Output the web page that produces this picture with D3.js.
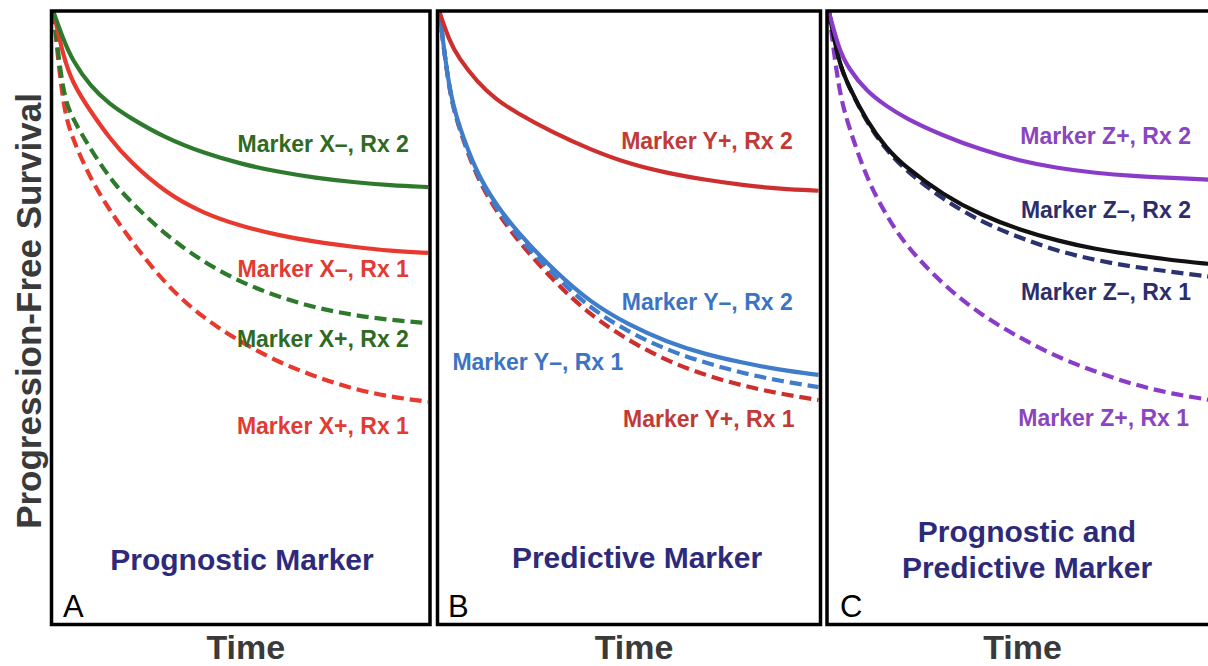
<!DOCTYPE html>
<html>
<head>
<meta charset="utf-8">
<script src="https://cdn.jsdelivr.net/npm/d3@7"></script>
<style>
  body { margin: 0; background: #fff; }
  svg { display: block; }
  text { font-family: "Liberation Sans", Arial, sans-serif; }
</style>
</head>
<body>
<div id="chart"></div>
<script>
const width = 1208;
const height = 666;

// time points (arbitrary units) shared by every curve
const timePts = [0, 0.25, 0.5, 1, 1.5, 2, 3, 4, 5, 6, 7, 8, 9, 10];

// panel A - prognostic marker (PFS %)
const xNegRx2 = [100, 95.7, 92.1, 87.7, 84.9, 82.8, 79.3, 76.9, 75.1, 73.8, 72.8, 72.1, 71.6, 71.3];
const xNegRx1 = [100, 93.0, 88.4, 83.6, 79.3, 75.7, 70.3, 67.0, 64.9, 63.4, 62.3, 61.5, 60.8, 60.5];
const xPosRx2 = [100, 86.4, 82.6, 77.4, 72.8, 69.2, 63.4, 59.0, 55.7, 53.3, 51.5, 50.3, 49.5, 49.0];
const xPosRx1 = [100, 84.3, 79.3, 72.5, 67.5, 63.1, 55.2, 49.8, 45.9, 42.6, 40.2, 38.2, 36.9, 36.1];

// panel B - predictive marker
const yPosRx2 = [100, 95.4, 92.5, 88.5, 85.6, 83.6, 80.2, 77.4, 75.1, 73.6, 72.5, 71.6, 71.0, 70.7];
const yNegRx2 = [100, 87.2, 81.5, 73.3, 68.4, 64.3, 57.7, 52.3, 48.7, 45.9, 43.9, 42.5, 41.3, 40.5];
const yNegRx1 = [100, 87.0, 81.3, 73.0, 67.9, 63.6, 56.9, 51.3, 47.5, 44.6, 42.5, 40.8, 39.5, 38.5];
const yPosRx1 = [100, 87.0, 81.1, 72.6, 67.4, 63.0, 55.9, 50.2, 46.1, 42.8, 40.5, 38.7, 37.4, 36.4];

// panel C - prognostic and predictive marker
const zPosRx2 = [100, 94.1, 90.8, 86.9, 84.6, 82.6, 79.7, 77.4, 75.6, 74.4, 73.6, 73.1, 72.8, 72.5];
const zNegRx2 = [100, 91.8, 88.0, 82.0, 77.7, 74.6, 70.0, 66.7, 64.3, 62.5, 61.1, 60.2, 59.3, 58.7];
const zNegRx1 = [100, 91.8, 88.0, 81.8, 77.4, 74.1, 69.2, 65.6, 63.0, 60.8, 59.3, 58.2, 57.4, 56.6];
const zPosRx1 = [100, 87.2, 81.5, 72.5, 66.7, 61.8, 55.2, 50.3, 46.6, 43.4, 41.0, 38.9, 37.4, 36.4];

const panelLetters = ["A", "B", "C"];
const panelTitles = [["Prognostic Marker"], ["Predictive Marker"], ["Prognostic and", "Predictive Marker"]];

// series per panel: [values, line colour, label colour, dashed, label, label t, label pct, anchor]
const panels = [
  { left: 51.5, right: 430, titleX: 242, titleY: [570], letterX: 63,
    series: [
      [xPosRx1, "#e8392f", "#e23b33", true,  "Marker X+, Rx 1", 9.49, 30.8, "end"],
      [xPosRx2, "#2e7a2c", "#2f6a22", true,  "Marker X+, Rx 2", 9.49, 45.1, "end"],
      [xNegRx1, "#e8392f", "#e23b33", false, "Marker X–, Rx 1", 9.49, 56.6, "end"],
      [xNegRx2, "#2e7a2c", "#2f6a22", false, "Marker X–, Rx 2", 9.49, 77.0, "end"]
    ] },
  { left: 437.5, right: 820.5, titleX: 637, titleY: [568], letterX: 448,
    series: [
      [yPosRx1, "#cd2f2f", "#c23a36", true,  "Marker Y+, Rx 1", 9.37, 32.0, "end"],
      [yNegRx1, "#3f7dca", "#3b74c4", true,  "Marker Y–, Rx 1", 0.34, 41.3, "start"],
      [yNegRx2, "#3f7dca", "#3b74c4", false, "Marker Y–, Rx 2", 9.32, 51.1, "end"],
      [yPosRx2, "#cd2f2f", "#c23a36", false, "Marker Y+, Rx 2", 9.32, 77.5, "end"]
    ] },
  { left: 827, right: 1212, titleX: 1027, titleY: [542, 578], letterX: 840,
    series: [
      [zPosRx1, "#8a3cc8", "#8a45c0", true,  "Marker Z+, Rx 1", 9.45, 32.1, "end"],
      [zNegRx1, "#2b3270", "#2c2e6b", true,  "Marker Z–, Rx 1", 9.5, 52.8, "end"],
      [zNegRx2, "#111111", "#2c2e6b", false, "Marker Z–, Rx 2", 9.5, 66.2, "end"],
      [zPosRx2, "#8a3cc8", "#8a45c0", false, "Marker Z+, Rx 2", 9.5, 78.4, "end"]
    ] }
];

const svg = d3.select("#chart")
  .append("svg")
  .attr("width", width)
  .attr("height", height);

const y = d3.scaleLinear().domain([0, 100]).range([622, 12]);

panels.forEach(function(p, i) {
  const x = d3.scaleLinear().domain([0, 10]).range([p.left + 2, p.right - 2]);
  const g = svg.append("g").attr("class", "panel");

  // basis spline smooths the read-off points into one clean decay
  const line = d3.line()
    .x((d, j) => x(timePts[j]))
    .y(d => y(d))
    .curve(d3.curveBasis);

  g.selectAll("path.curve")
    .data(p.series)
    .enter()
    .append("path")
    .attr("class", "curve")
    .attr("d", d => line(d[0]))
    .attr("fill", "none")
    .attr("stroke", d => d[1])
    .attr("stroke-width", 4.2)
    .attr("stroke-dasharray", d => d[3] ? "12,6" : null);

  g.selectAll("text.lab")
    .data(p.series)
    .enter()
    .append("text")
    .attr("class", "lab")
    .attr("x", d => x(d[5]))
    .attr("y", d => y(d[6]))
    .attr("text-anchor", d => d[7])
    .style("font-weight", "bold")
    .style("font-size", "23px")
    .style("fill", d => d[2])
    .text(d => d[4]);

  // panel frame
  g.append("rect")
    .attr("x", p.left)
    .attr("y", 11)
    .attr("width", p.right - p.left)
    .attr("height", 613.5)
    .attr("fill", "none")
    .attr("stroke", "#000")
    .attr("stroke-width", 3.5);

  panelTitles[i].forEach(function(t, k) {
    g.append("text")
      .attr("x", p.titleX)
      .attr("y", p.titleY[k])
      .attr("text-anchor", "middle")
      .style("font-weight", "bold")
      .style("font-size", "30px")
      .style("fill", "#2e2a7a")
      .text(t);
  });

  g.append("text")
    .attr("x", p.letterX)
    .attr("y", 617)
    .style("font-size", "31px")
    .style("fill", "#000")
    .text(panelLetters[i]);

  g.append("text")
    .attr("x", (p.left + Math.min(p.right, 1208)) / 2 + 5)
    .attr("y", 659)
    .attr("text-anchor", "middle")
    .style("font-weight", "bold")
    .style("font-size", "34px")
    .style("fill", "#3a3a3a")
    .text("Time");
});

svg.append("text")
  .attr("transform", "translate(41,311) rotate(-90)")
  .attr("text-anchor", "middle")
  .style("font-weight", "bold")
  .style("font-size", "35px")
  .style("fill", "#3a3a3a")
  .text("Progression-Free Survival");
</script>
</body>
</html>
